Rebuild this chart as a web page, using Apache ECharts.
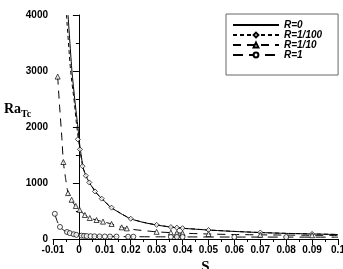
<!DOCTYPE html>
<html><head><meta charset="utf-8">
<script src="https://cdn.jsdelivr.net/npm/echarts@6/dist/echarts.min.js"></script>
<style>html,body{margin:0;padding:0;background:#fff}#c{width:343px;height:269px}</style>
</head><body><div id="c"></div>
<script>
// Category labels
const seriesNames = ['R=0', 'R=1/100', 'R=1/10', 'R=1'];
// Axis ticks
const xTicks = { min: -0.01, max: 0.1, step: 0.01 };
const yTicks = { min: 0, max: 4000, step: 1000 };

// R=0 : solid curve [S, Ra_Tc]
const r0Curve = [[-0.0042,4000],[-0.0027,3000],[-0.0015,2450],[-0.0004,2000],[0.0004,1650],[0.0017,1260],[0.003,1100],[0.0042,994],[0.0068,816],[0.0094,696],[0.012,577],[0.016,459],[0.020,360],[0.025,295],[0.030,250],[0.035,215],[0.040,191],[0.050,160],[0.060,135],[0.070,115],[0.080,100],[0.090,90],[0.100,80]];

// R=1/100 : dashed curve + markers
const r100Curve = [[-0.0048,4000],[-0.0032,3000],[-0.0018,2450],[-0.0008,2000],[0.0002,1650],[0.0016,1270],[0.003,1105],[0.0042,1000],[0.0068,820],[0.0094,700],[0.012,580],[0.016,462],[0.020,362],[0.025,297],[0.030,252],[0.035,217],[0.040,193],[0.050,161],[0.060,136],[0.070,116],[0.080,101],[0.090,91],[0.100,81]];
const r100Marks = [[-0.0004,1780],[0.0004,1600],[0.0014,1300],[0.0027,1130],[0.004,1010],[0.0062,850],[0.0088,720],[0.0126,560],[0.020,362],[0.030,252],[0.0355,213],[0.0378,203],[0.040,193],[0.050,161],[0.070,116],[0.090,91]];

// R=1/10 : long-dash curve + triangles
const r10Curve = [[-0.0082,2900],[-0.0075,2400],[-0.0066,1820],[-0.006,1375],[-0.0052,1100],[-0.0042,820],[-0.0032,720],[-0.0015,600],[0,530],[0.0023,429],[0.0042,375],[0.0068,339],[0.0093,310],[0.0126,268],[0.0165,208],[0.020,175],[0.030,128],[0.040,104],[0.050,89],[0.060,80],[0.070,74],[0.080,70],[0.090,67],[0.100,64]];
const r10Marks = [[-0.0082,2900],[-0.006,1375],[-0.0042,820],[-0.0028,700],[-0.0012,590],[0.0003,520],[0.0023,429],[0.0042,375],[0.0068,339],[0.0093,310],[0.0126,268],[0.0165,208],[0.0185,190],[0.030,128],[0.0355,114],[0.0378,109],[0.040,104],[0.050,89],[0.070,74],[0.090,67]];

// R=1 : long-dash curve + circles
const r1Curve = [[-0.0093,450],[-0.0085,330],[-0.0073,215],[-0.006,160],[-0.0046,125],[-0.003,98],[-0.0015,78],[0,64],[0.003,53],[0.006,48],[0.010,45],[0.020,41],[0.030,39],[0.040,37],[0.060,35],[0.080,34],[0.100,33]];
const r1Marks = [[-0.0093,450],[-0.0073,215],[-0.0046,125],[-0.0035,105],[-0.002,85],[-0.001,74],[0.001,60],[0.002,56],[0.003,53],[0.0045,50],[0.006,48],[0.008,46],[0.010,45],[0.012,44],[0.0145,43],[0.019,41],[0.021,41],[0.0355,38],[0.0378,38],[0.040,37],[0.060,35],[0.080,34]];

const black = '#000';
const tickFont = { color: black, fontFamily: 'Liberation Sans', fontWeight: 'bold', fontSize: 10 };
const hollow = { color: '#fff', borderColor: black, borderWidth: 0.9 };

function lineSeries(name, data, dash, symbol) {
  return {
    name, type: 'line', data, showSymbol: false, symbol, symbolSize: 5,
    smooth: 0.2, silent: true, animation: false, z: 2,
    lineStyle: { color: black, width: 1, type: dash },
    itemStyle: hollow
  };
}
function markSeries(name, data, symbol) {
  return {
    name, type: 'scatter', data, symbol, symbolSize: 5, animation: false, silent: true, z: 3,
    itemStyle: hollow
  };
}

const chart = echarts.init(document.getElementById('c'), null, { renderer: 'canvas' });
chart.setOption({
  backgroundColor: '#fff',
  animation: false,
  title: {
    text: '{a|Ra}{b|Tc}', left: 4, top: 100, padding: 0,
    textStyle: {
      color: black, fontFamily: 'Liberation Serif', fontWeight: 'bold', fontSize: 14,
      rich: {
        a: { fontFamily: 'Liberation Serif', fontWeight: 'bold', fontSize: 14, color: black, lineHeight: 18 },
        b: { fontFamily: 'Liberation Serif', fontWeight: 'bold', fontSize: 10, color: black, padding: [9, 0, 0, 0] }
      }
    }
  },
  grid: { left: 53, right: 5, top: 15, bottom: 30, containLabel: false, outerBoundsMode: 'none' },
  legend: {
    orient: 'vertical', left: 226, top: 14,
    padding: [6, 16, 15, 6], itemGap: 0, itemWidth: 46, itemHeight: 6,
    borderColor: '#666', borderWidth: 1, backgroundColor: '#fff',
    textStyle: { color: black, fontFamily: 'Liberation Sans', fontWeight: 'bold', fontStyle: 'italic', fontSize: 10 },
    data: [
      { name: seriesNames[0], itemStyle: { opacity: 0 } },
      { name: seriesNames[1] },
      { name: seriesNames[2] },
      { name: seriesNames[3] }
    ]
  },
  xAxis: {
    type: 'value', min: xTicks.min, max: xTicks.max, interval: xTicks.step,
    name: 'S', nameLocation: 'middle', nameGap: 20,
    nameTextStyle: { color: black, fontFamily: 'Liberation Serif', fontWeight: 'bold', fontSize: 15, padding: [0, 0, 0, 20] },
    axisLine: { onZero: false, lineStyle: { color: black, width: 1 } },
    axisTick: { show: true, length: 6, lineStyle: { color: black } },
    minorTick: { show: true, splitNumber: 2, length: 3, lineStyle: { color: black } },
    splitLine: { show: false },
    axisLabel: Object.assign({ margin: 6, formatter: v => (Math.abs(v) < 1e-9 ? '0' : String(+v.toFixed(2))) }, tickFont)
  },
  yAxis: {
    type: 'value', min: yTicks.min, max: yTicks.max, interval: yTicks.step,
    axisLine: { show: true, onZero: true, lineStyle: { color: black, width: 1 } },
    axisTick: { show: true, length: 6, lineStyle: { color: black } },
    minorTick: { show: true, splitNumber: 2, length: 3, lineStyle: { color: black } },
    splitLine: { show: false },
    axisLabel: Object.assign({ margin: 5, formatter: v => String(Math.round(v)) }, tickFont)
  },
  series: [
    lineSeries(seriesNames[0], r0Curve, 'solid', 'circle'),
    lineSeries(seriesNames[1], r100Curve, [4, 3], 'diamond'),
    lineSeries(seriesNames[2], r10Curve, [8, 6], 'triangle'),
    lineSeries(seriesNames[3], r1Curve, [10, 6], 'circle'),
    markSeries('m100', r100Marks, 'diamond'),
    markSeries('m10', r10Marks, 'triangle'),
    markSeries('m1', r1Marks, 'circle')
  ]
});
</script>
</body></html>
